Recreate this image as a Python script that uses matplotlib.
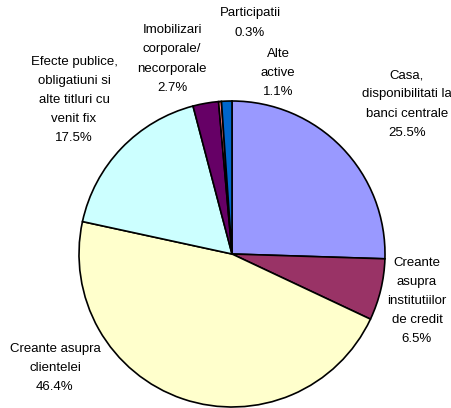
import matplotlib.pyplot as plt

# Data (clockwise from 12 o'clock)
labels = ['Casa,\ndisponibilitati la\nbanci centrale',
          'Creante\nasupra\ninstitutiilor\nde credit',
          'Creante asupra\nclientelei',
          'Efecte publice,\nobligatiuni si\nalte titluri cu\nvenit fix',
          'Imobilizari\ncorporale/\nnecorporale',
          'Participatii',
          'Alte\nactive']
shares = [25.5, 6.5, 46.4, 17.5, 2.7, 0.3, 1.1]
colors = ['#9999FF', '#993366', '#FFFFCC', '#CCFFFF', '#660066', '#FF8080', '#0066CC']

# label centres in pixels from the top-left corner
label_pos = [(407, 104), (417, 301), (55, 368), (74, 100),
             (172, 59), (250, 23), (278, 73)]

W, H = 451, 408
fig = plt.figure(figsize=(W / 100, H / 100), dpi=100)
ax = fig.add_axes([0, 0, 1, 1])

ax.pie(shares, colors=colors, startangle=90, counterclock=False,
       center=(232, H - 254), radius=153,
       wedgeprops=dict(edgecolor='black', linewidth=1.2))

ax.set_xlim(0, W)
ax.set_ylim(0, H)
ax.set_aspect('equal')
ax.axis('off')

for lab, val, (x, y) in zip(labels, shares, label_pos):
    ax.text(x, H - y, '%s\n%.1f%%' % (lab, val), ha='center', va='center',
            fontsize=9.5, family='Liberation Sans', linespacing=1.8)

fig.savefig('out.png', dpi=100)
